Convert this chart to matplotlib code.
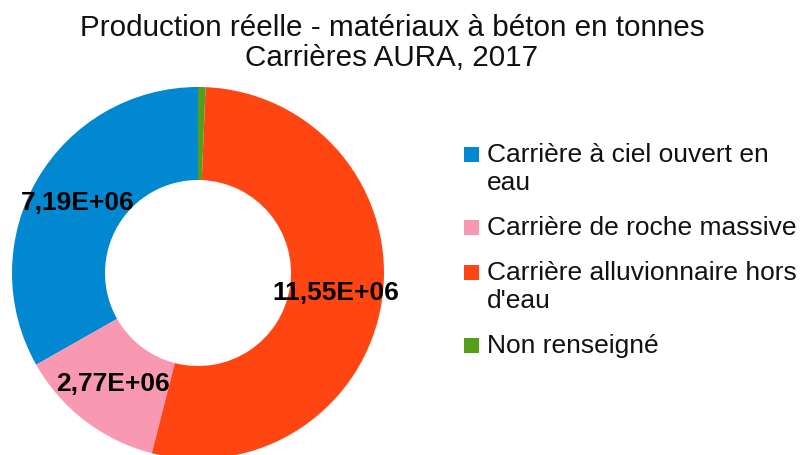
import numpy as np
import matplotlib
matplotlib.use("Agg")
import matplotlib.pyplot as plt
from matplotlib.patches import Rectangle

plt.rcParams['font.family'] = ['Liberation Sans', 'DejaVu Sans']

categories = ["Carrière à ciel ouvert en\neau", "Carrière de roche massive",
              "Carrière alluvionnaire hors\nd'eau", "Non renseigné"]
values = [7.19e6, 2.77e6, 11.55e6, 0.14e6]
value_labels = ["7,19E+06", "2,77E+06", "11,55E+06", ""]
colors = ["#0288d1", "#f898b1", "#ff4612", "#579d1c"]
title_lines = ["Production réelle - matériaux à béton en tonnes", "Carrières AURA, 2017"]

W, H = 801, 455
fig = plt.figure(figsize=(W / 100, H / 100), dpi=100)
ax = fig.add_axes([0, 0, 1, 1])

cx, cy, r = 198, H - 273, 186
wedges, _ = ax.pie(values, colors=colors, startangle=90, counterclock=True,
                   center=(cx, cy), radius=r,
                   wedgeprops=dict(width=r - 93, linewidth=0))

# valeurs au milieu de chaque secteur
for w, lab in zip(wedges, value_labels):
    if not lab:
        continue
    ang = np.deg2rad((w.theta1 + w.theta2) / 2)
    ax.text(cx + 0.75 * r * np.cos(ang), cy + 0.75 * r * np.sin(ang), lab,
            ha='center', va='center', fontsize=19, fontweight='bold', color='black')

ax.set_xlim(0, W)
ax.set_ylim(0, H)
ax.set_aspect('equal')
ax.axis('off')

fig.text(0.49, 0.921, title_lines[0], ha='center', va='baseline', fontsize=21.3, color='#111111')
fig.text(0.489, 0.855, title_lines[1], ha='center', va='baseline', fontsize=21.3, color='#111111')

# legende (carre aligne sur la premiere ligne)
base = 162      # ligne de base du premier libelle (px depuis le haut)
line_h, gap, sq = 28, 17, 15
for cat, col in zip(categories, colors):
    ax.add_patch(Rectangle((464, H - base), sq, sq, facecolor=col, edgecolor='none'))
    lines = cat.split("\n")
    for k, txt in enumerate(lines):
        ax.text(487, H - base - k * line_h, txt, ha='left', va='baseline',
                fontsize=19, color='#111111')
    base += len(lines) * line_h + gap

fig.savefig("out.png", dpi=100)
